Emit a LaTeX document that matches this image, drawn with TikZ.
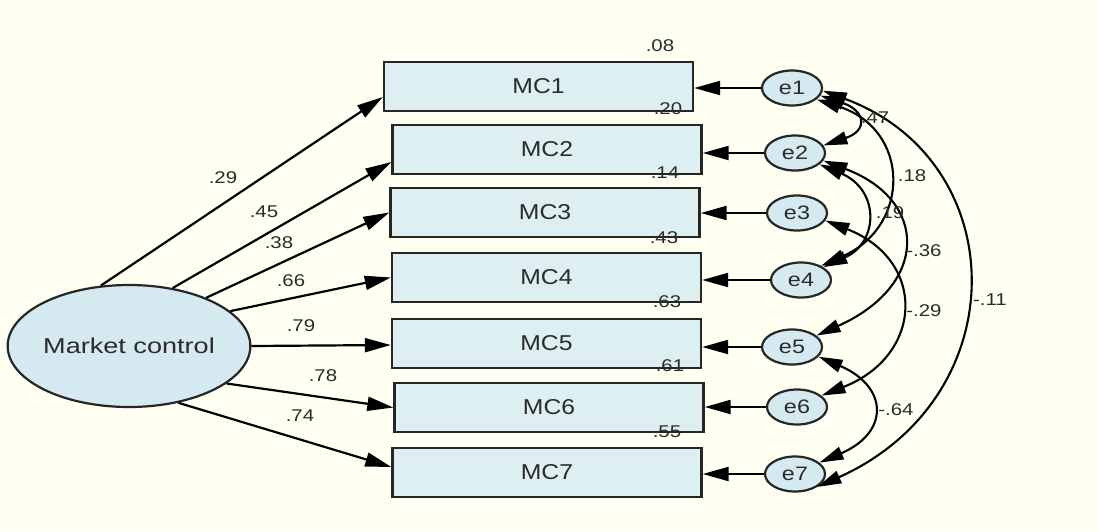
\documentclass[tikz,border=0pt]{standalone}
\usepackage{fontspec}
\setmainfont{Liberation Sans}
\newfontfamily\lblfont{Liberation Sans}[FakeStretch=1.2]
\newfontfamily\mcfont{Liberation Sans}[FakeStretch=1.15]
\newfontfamily\lvfont{Liberation Sans}[FakeStretch=1.26]
\usetikzlibrary{shapes.geometric,arrows.meta,calc}
\definecolor{bgc}{HTML}{FFFFF2}
\definecolor{boxfill}{HTML}{DDEFF0}
\definecolor{ellfill}{HTML}{D5EAF0}
\definecolor{edge}{HTML}{262626}
\definecolor{txt}{HTML}{2B2B2B}
\tikzset{
  obs/.style={rectangle,draw=edge,fill=boxfill,line width=2.4pt,minimum width=309pt,minimum height=49pt,inner sep=0pt,text=txt,font=\mcfont\fontsize{21.5}{24}\selectfont},
  err/.style={ellipse,draw=edge,fill=ellfill,line width=2.2pt,minimum width=60pt,minimum height=35pt,inner sep=0pt,text=txt,font=\lblfont\fontsize{19.5}{22}\selectfont},
  lat/.style={ellipse,draw=edge,fill=ellfill,line width=2.2pt,minimum width=222pt,minimum height=122pt,inner sep=0pt,text=txt,font=\lvfont\fontsize{21.5}{24}\selectfont},
  lbl/.style={text=txt,inner sep=0pt,font=\lblfont\fontsize{17}{18}\selectfont},
  arr/.style={draw=black,line width=2.2pt,-{Triangle[length=26pt,width=14pt]}},
  cov/.style={draw=black,line width=2.1pt,{Triangle[length=24pt,width=13pt]}-{Triangle[length=24pt,width=13pt]}}
}
\begin{document}
\begin{tikzpicture}[x=1pt,y=-1pt]
\fill[bgc] (0,0) rectangle (1098,531);
\useasboundingbox (0,0) rectangle (1098,531);
% observed
\node[obs] (m1) at (538.5,86.5) {MC1};
\node[obs] (m2) at (547,149.5) {MC2};
\node[obs] (m3) at (545,212.5) {MC3};
\node[obs] (m4) at (546.5,277.5) {MC4};
\node[obs] (m5) at (546.5,343.5) {MC5};
\node[obs] (m6) at (549,407.5) {MC6};
\node[obs] (m7) at (547,472.5) {MC7};
% errors
\node[err] (e1) at (792,88) {e1};
\node[err] (e2) at (795,153) {e2};
\node[err] (e3) at (797,213) {e3};
\node[err] (e4) at (801,280) {e4};
\node[err] (e5) at (792,347) {e5};
\node[err] (e6) at (797,407) {e6};
\node[err] (e7) at (795,474) {e7};
% latent
\node[lat] (mc) at (129,346) {Market control};
% loadings
\draw[arr] (mc.115) -- ($(m1.west)+(0,10.5)$);
\draw[arr] (mc.53) -- ($(m2.west)+(0,12.5)$);
\draw[arr] (mc.32) -- (m3.west);
\draw[arr] (mc.19.5) -- (m4.west);
\draw[arr] (mc.0.5) -- ($(m5.west)+(0,1.5)$);
\draw[arr] (mc.-21) -- (m6.west);
\draw[arr] (mc.-49) -- ($(m7.west)+(0,-5.5)$);
% error arrows
\foreach \i in {1,...,7}{
  \draw[arr] (e\i.west) -- (e\i.west -| m\i.east);
}
% covariances
\draw[cov] (e1.-15) .. controls +(45,15) and +(45,-15) .. (e2.15);
\draw[cov] (e1.-25) .. controls +(94,30) and +(90,-40) .. (e4.35);
\draw[cov] (e2.-25) .. controls +(60,25) and +(56,-25) .. (e4.30);
\draw[cov] (e2.-15) .. controls +(106,40) and +(112,-50) .. (e5.25);
\draw[cov] (e3.-15) .. controls +(102,40) and +(102,-40) .. (e6.25);
\draw[cov] (e1.-5) .. controls +(190,70) and +(200,-90) .. (e7.-30);
\draw[cov] (e5.-20) .. controls +(70,30) and +(70,-30) .. (e7.25);
% loading labels
\node[lbl] (l1) at (223,178) {.29};
\node[lbl] (l2) at (264,212) {.45};
\node[lbl] (l3) at (279,243) {.38};
\node[lbl] (l4) at (291,281) {.66};
\node[lbl] (l5) at (301,326) {.79};
\node[lbl] (l6) at (323,376) {.78};
\node[lbl] (l7) at (300,416) {.74};
% R2 labels
\node[lbl] (r1) at (660,46) {.08};
\node[lbl] (r2) at (668,109) {.20};
\node[lbl] (r3) at (665,173) {.14};
\node[lbl] (r4) at (664,238) {.43};
\node[lbl] (r5) at (667,302) {.63};
\node[lbl] (r6) at (670,366) {.61};
\node[lbl] (r7) at (667,432) {.55};
% covariance labels
\node[lbl] (c12) at (875,118) {.47};
\node[lbl] (c14) at (912,176) {.18};
\node[lbl] (c24) at (890,213) {.19};
\node[lbl] (c25) at (924,251) {-.36};
\node[lbl] (c36) at (924,311) {-.29};
\node[lbl] (c17) at (990,300) {-.11};
\node[lbl] (c57) at (896,410) {-.64};
\end{tikzpicture}
\end{document}
